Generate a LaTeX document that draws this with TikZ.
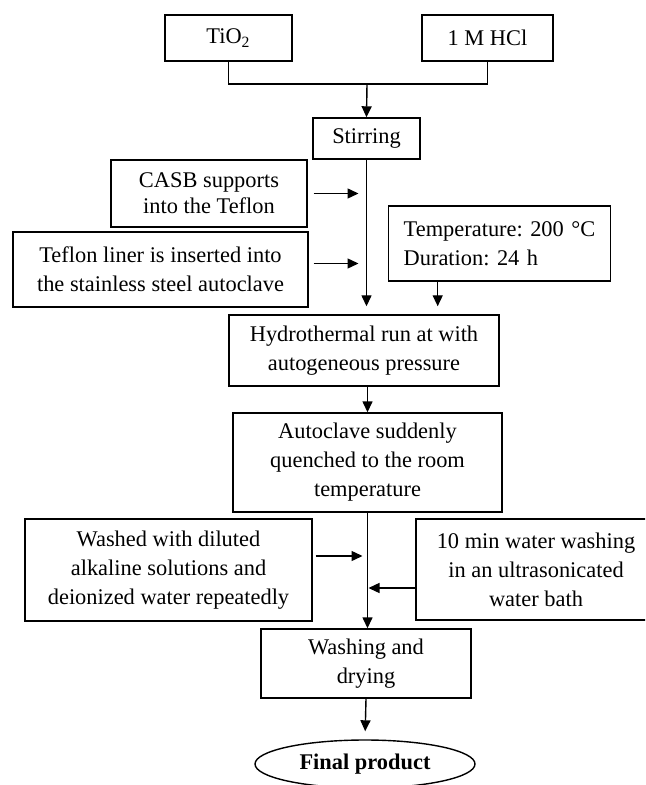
\documentclass[tikz,border=0pt]{standalone}
\usepackage{fontspec}
\setmainfont{Liberation Serif}
\frenchspacing
\usetikzlibrary{arrows.meta,shapes.geometric}
\tikzset{
  stepbox/.style={draw, line width=0.7pt, align=center, inner sep=2pt,
              font=\fontsize{11.2}{14.5}\selectfont},
  endnode/.style={draw, ellipse, line width=0.7pt, inner sep=0pt,
              font=\fontsize{11.2}{14.5}\selectfont\bfseries},
  flow/.style={-{Triangle[length=5.5pt,width=5pt]}, line width=0.7pt},
  link/.style={line width=0.7pt},
}

\begin{document}
\begin{tikzpicture}[x=0.5pt,y=-0.5pt]
    \path[use as bounding box,clip] (0,0) rectangle (645,785);
    % starting materials
    \node[stepbox,minimum width=63.5pt,minimum height=23pt] (tio) at (228.5,38) {TiO\textsubscript{2}};
    \node[stepbox,minimum width=65.5pt,minimum height=23pt] (hcl) at (487.5,38) {1 M HCl};
    \coordinate (jn) at (367,84);
    \draw[link] (tio.south) |- (jn);
    \draw[link] (hcl.south) |- (jn);
    \node[stepbox,minimum width=53.5pt,minimum height=20.5pt] (stir) at (366.5,138.5) {Stirring};
    \draw[flow] (jn) -- (stir.north);
    % loading the autoclave
    \node[stepbox,font=\fontsize{11.2}{13}\selectfont,minimum width=98pt,minimum height=33.5pt] (casb) at (209,193.5)
      {CASB supports\\into the Teflon};
    \node[stepbox,minimum width=147.5pt,minimum height=37.5pt] (liner) at (160.5,269.5)
      {Teflon liner is inserted into\\the stainless steel autoclave};
    \node[stepbox,align=left,text width=96pt,inner xsep=7.5pt,minimum height=37.5pt,anchor=west] (cond) at (388,243.5)
      {Temperature: 200 \textdegree C\\Duration: 24 h};
    \node[stepbox,minimum width=135pt,minimum height=35.5pt] (hydro) at (364,350.5)
      {Hydrothermal run at with\\autogeneous pressure};
    \draw[flow,shorten >=4pt] (stir.south) -- (stir.south |- hydro.north);
    \coordinate (m1) at (stir.south |- casb.east);
    \coordinate (m2) at ([yshift=3pt]stir.south |- liner.east);
    \draw[flow] ([xshift=3pt]casb.east) -- ([xshift=-4pt]m1);
    \draw[flow] ([xshift=2.5pt,yshift=3pt]liner.east) -- ([xshift=-4pt]m2);
    \coordinate (t1) at ([xshift=-31pt]cond.south);
    \draw[flow,shorten >=4pt] (t1) -- (t1 |- hydro.north);
    % cooling and washing
    \node[stepbox,minimum width=134.5pt,minimum height=49.5pt] (quench) at (367.5,462.5)
      {Autoclave suddenly\\quenched to the room\\temperature};
    \draw[flow] (hydro.south -| quench.north) -- (quench.north);
    \node[stepbox,minimum width=143.5pt,minimum height=51pt] (alk) at (168.5,570)
      {Washed with diluted\\alkaline solutions and\\deionized water repeatedly};
    \node[stepbox,minimum width=120pt,minimum height=50.5pt] (sonic) at (536,569.5)
      {10 min water washing\\in an ultrasonicated\\water bath};
    \node[stepbox,minimum width=105pt,minimum height=34.5pt] (wash) at (366,663.5)
      {Washing and\\drying};
    \draw[flow] (quench.south) -- (quench.south |- wash.north);
    \coordinate (m3) at ([yshift=7pt]quench.south |- alk.east);
    \coordinate (m4) at ([yshift=-9.25pt]quench.south |- sonic.west);
    \draw[flow] ([xshift=1.5pt,yshift=7pt]alk.east) -- ([xshift=-2.5pt]m3);
    \draw[flow] ([yshift=-9.25pt]sonic.west) -- ([xshift=0.5pt]m4);
    % product
    \node[endnode,minimum width=110pt,minimum height=24pt] (final) at (365,764) {Final product};
    \draw[flow,shorten >=4pt] (wash.south) -- (final.north);
\end{tikzpicture}
\end{document}
